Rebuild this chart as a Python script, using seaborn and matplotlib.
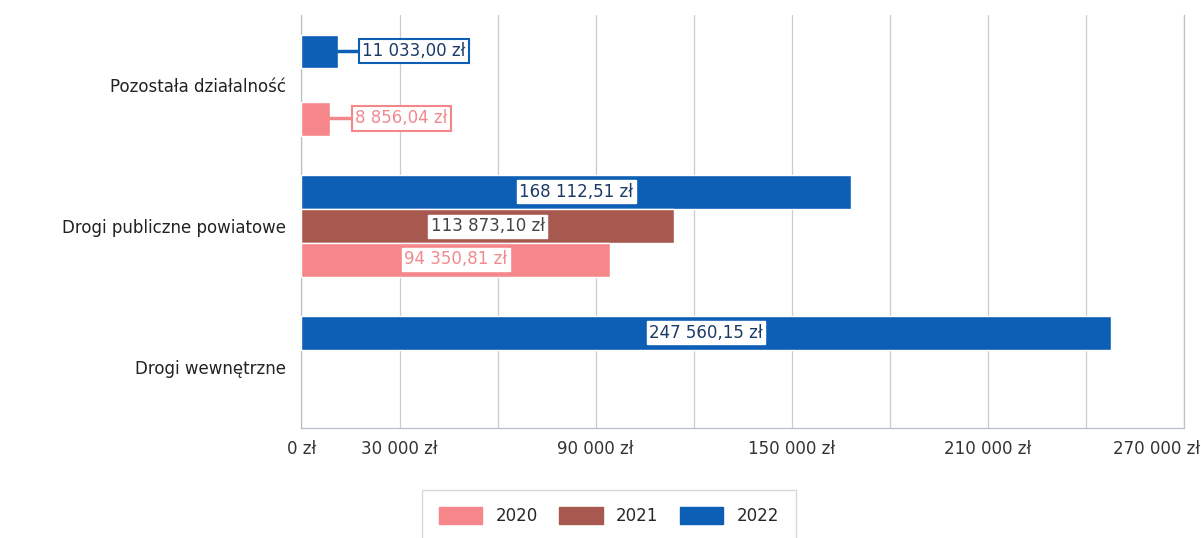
import matplotlib
matplotlib.use("Agg")
import matplotlib.pyplot as plt
from matplotlib.patches import Patch
import numpy as np
import pandas as pd
import seaborn as sns

categories = ["Pozostała działalność", "Drogi publiczne powiatowe", "Drogi wewnętrzne"]
years = ["2020", "2021", "2022"]
values_2020 = [8856.04, 94350.81, np.nan]
values_2021 = [np.nan, 113873.10, np.nan]
values_2022 = [11033.00, 168112.51, 247560.15]
tick_values = [0, 30000, 90000, 150000, 210000, 270000]
tick_labels = ["0 zł", "30 000 zł", "90 000 zł", "150 000 zł", "210 000 zł", "270 000 zł"]

colors = {"2020": "#F5878B", "2021": "#A8594F", "2022": "#0D5FB5"}
text_colors = {"2020": "#F08A90", "2021": "#444444", "2022": "#1B3A66"}


def fmt(v):
    s = f"{v:,.2f}".replace(",", " ").replace(".", ",")
    return s + " zł"


rows = []
for y, vals in zip(years, [values_2020, values_2021, values_2022]):
    for c, v in zip(categories, vals):
        rows.append({"category": c, "year": y, "value": v})
df = pd.DataFrame(rows)

sns.set_style("white")
plt.rcParams["font.family"] = ["DejaVu Sans"]
fs = 12

fig = plt.figure(figsize=(12.01, 5.38), dpi=100)
ax = fig.add_axes([0.251, 0.2045, 0.735, 0.7677])

hue_order = ["2022", "2021", "2020"]
sns.barplot(data=df, y="category", x="value", hue="year", order=categories,
            hue_order=hue_order, palette=colors, orient="h", width=0.72,
            saturation=1, legend=False, ax=ax, zorder=3)

ax.set_xlim(0, 270000)
ax.set_ylim(2.433, -0.5)
ax.set_xticks(np.arange(0, 270001, 30000))
ax.set_xticklabels(["" for _ in range(10)])
for v, lab in zip(tick_values, tick_labels):
    last = v == tick_values[-1]
    ax.annotate(lab, (v, 0), xycoords=ax.get_xaxis_transform(),
                xytext=(16 if last else 0, -12), textcoords="offset pixels",
                ha="right" if last else "center", va="top", fontsize=fs,
                color="#333333")
ax.grid(axis="x", color="#C8CCD6", linewidth=0.9, zorder=0)
ax.set_xlabel("")
ax.set_ylabel("")
ax.tick_params(axis="y", labelsize=fs, labelcolor="#222222", length=5,
               color="#B0B8C8", pad=6)
ax.tick_params(axis="x", length=5, color="#B0B8C8", direction="out")
ax.set_yticks([-0.25, 0.25, 0.75, 1.25, 1.75, 2.25], minor=True)
ax.tick_params(axis="y", which="minor", length=3, color="#B0B8C8")
ax.spines["top"].set_visible(False)
for s in ["left", "bottom", "right"]:
    ax.spines[s].set_color("#B8C0CC")
    ax.spines[s].set_linewidth(0.9)

# value labels
offsets = {"2022": -0.245, "2021": 0.0, "2020": 0.235}
for y, vals in zip(years, [values_2020, values_2021, values_2022]):
    for i, v in enumerate(vals):
        if np.isnan(v):
            continue
        ypos = i + offsets[y]
        if v < 50000:
            x_text = v + 7500
            ax.plot([v, x_text], [ypos, ypos], color=colors[y], lw=2.5, zorder=4)
            ax.text(x_text, ypos, fmt(v), ha="left", va="center", fontsize=fs,
                    color=text_colors[y], zorder=5,
                    bbox=dict(boxstyle="square,pad=0.2", fc="white",
                              ec=colors[y], lw=1.5))
        else:
            ax.text(v / 2, ypos, fmt(v), ha="center", va="center", fontsize=fs,
                    color=text_colors[y], zorder=5,
                    bbox=dict(boxstyle="square,pad=0.15", fc="white",
                              ec="white", lw=1))

handles = [Patch(facecolor=colors[y], edgecolor=colors[y], label=y) for y in years]
leg = fig.legend(handles=handles, loc="upper center", bbox_to_anchor=(0.507, 0.105),
                 ncol=3, frameon=True, fancybox=False, fontsize=fs,
                 handlelength=2.6, handleheight=1.2, columnspacing=1.3,
                 borderpad=1.0, edgecolor="#C8CCD6")
leg.get_frame().set_linewidth(0.9)

fig.savefig("out.png", dpi=100, facecolor="white")
